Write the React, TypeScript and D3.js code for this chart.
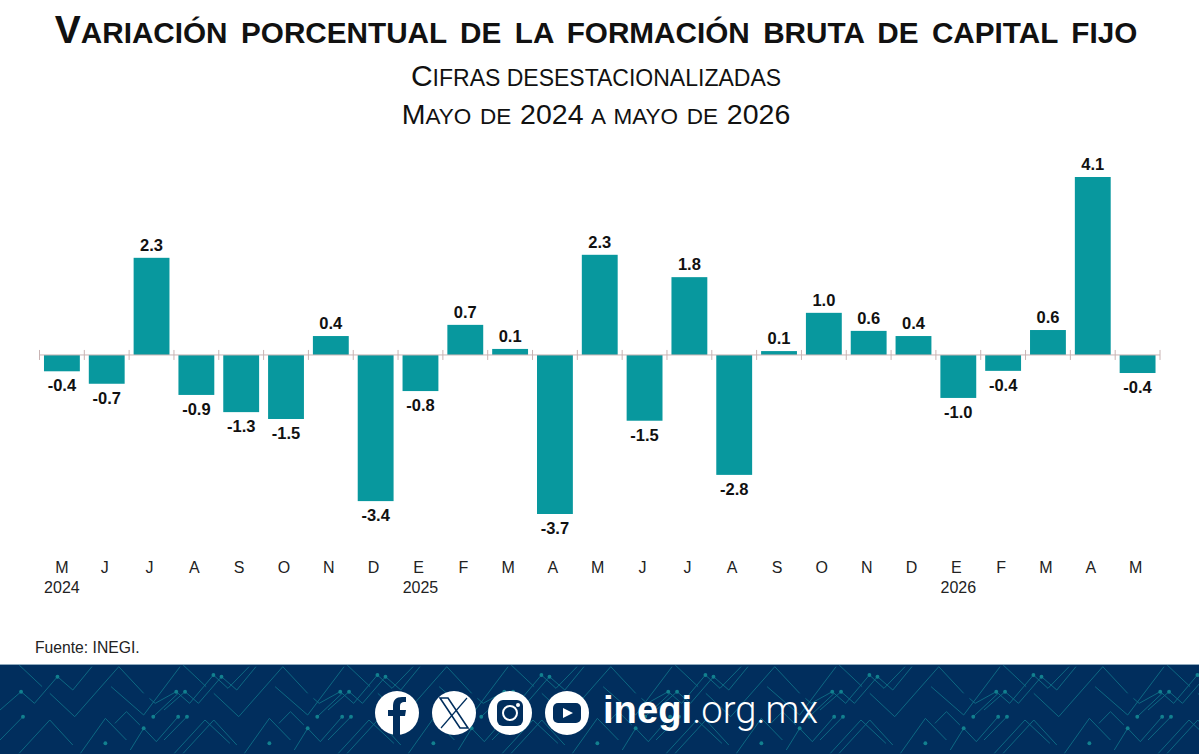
import React from 'react'
import * as d3 from 'd3'

const WIDTH = 1199
const HEIGHT = 754

const months = ['M', 'J', 'J', 'A', 'S', 'O', 'N', 'D', 'E', 'F', 'M', 'A', 'M', 'J', 'J', 'A', 'S', 'O', 'N', 'D', 'E', 'F', 'M', 'A', 'M']
const years = ['2024', '', '', '', '', '', '', '', '2025', '', '', '', '', '', '', '', '', '', '', '', '2026', '', '', '', '']
// the labels round these to one decimal
const values = [-0.38, -0.67, 2.26, -0.93, -1.33, -1.49, 0.44, -3.4, -0.84, 0.7, 0.14, -3.7, 2.33, -1.53, 1.81, -2.79, 0.09, 0.98, 0.56, 0.44, -1.0, -0.37, 0.58, 4.14, -0.42]

const title = 'Variación porcentual de la formación bruta de capital fijo'
const subtitle = 'Cifras desestacionalizadas'
const period = 'Mayo de 2024 a mayo de 2026'

// footer decoration
const zigzags = [
  [[0, 150], [55, 95], [90, 130], [150, 50], [190, 90], [240, 20]],
  [[50, 15], [110, 80]],
  [[130, 100], [195, 170], [310, 20], [375, 100]],
  [[290, 80], [375, 165], [470, 20]],
  [[390, 115], [405, 130], [460, 95], [495, 130], [557, 45], [595, 85], [650, 20]],
  [[400, 170], [465, 100]],
  [[0, 240], [60, 170]],
  [[50, 280], [130, 180], [190, 255]],
  [[210, 280], [275, 175], [330, 240]],
  [[300, 190], [330, 155], [365, 195]],
  [[340, 270], [375, 205], [408, 245], [465, 170]],
  [[455, 280], [535, 180], [600, 250]],
]
const nodes = [[55, 95], [150, 50], [460, 95], [557, 45], [60, 170], [400, 170], [465, 170], [375, 205], [275, 250]]

const TEAL = '#08989e'
const NAVY = '#012e5d'
const SANS = '"Liberation Sans", Arial, sans-serif'

// small caps by hand, the browser's synthetic ratio is too small here
function SmallCaps({ text, big, small }: { text: string; big: number; small: number }) {
  const runs = text.match(/[a-záéíóúñ ]+|[^a-záéíóúñ ]+/g) || []
  return (
    <>
      {runs.map((r, i) => {
        const lower = r !== r.toUpperCase() || r.trim() === ''
        return (
          <tspan key={i} fontSize={lower ? small : big}>
            {r.toUpperCase()}
          </tspan>
        )
      })}
    </>
  )
}

export default function App() {
  const keys = months.map((_, i) => String(i))

  const x = d3.scaleBand().domain(keys).range([39.5, 1160]).paddingInner(0.2).paddingOuter(0.1)
  const y = d3.scaleLinear().domain([-3.7, 4.14]).range([514, 177])
  const step = x.step()
  const ticks = d3.range(months.length + 1).map((i) => 39.5 + i * step)
  const line = d3.line()
  const mid = (i: number) => x(keys[i])! + x.bandwidth() / 2

  return (
    <svg width={WIDTH} height={HEIGHT} style={{ position: 'absolute', left: 0, top: 0, background: '#fff' }} fontFamily={SANS}>
      <g textAnchor="middle" fill="#111">
        <text x={596} y={43} fontWeight="bold" wordSpacing={5.2} xmlSpace="preserve"><SmallCaps text={title} big={39} small={29.7} /></text>
        <text x={596} y={86} xmlSpace="preserve"><SmallCaps text={subtitle} big={30} small={23} /></text>
        <text x={596} y={124} wordSpacing={2.5} xmlSpace="preserve"><SmallCaps text={period} big={28.5} small={22.5} /></text>
      </g>

      {values.map((v, i) => (
        <rect key={i} x={x(keys[i])} width={x.bandwidth()} y={Math.min(y(v), y(0))} height={Math.abs(y(v) - y(0))} fill={TEAL} />
      ))}

      <line x1={39.5} x2={1160} y1={y(0)} y2={y(0)} stroke="#c9b4b4" />
      {ticks.map((t) => (
        <line key={t} x1={t} x2={t} y1={y(0) - 5} y2={y(0) + 5} stroke="#c9b4b4" />
      ))}

      <g textAnchor="middle" fontSize={16.5} fontWeight="bold" fill="#111">
        {values.map((v, i) => (
          <text key={i} x={mid(i)} y={v < 0 ? y(v) + 20 : y(v) - 7}>
            {v.toFixed(1)}
          </text>
        ))}
      </g>

      <g textAnchor="middle" fontSize={16} fill="#222">
        {months.map((m, i) => (
          <text key={i} x={i === 0 ? mid(i) : mid(i) - 2} y={573}>{m}</text>
        ))}
        {years.map((yr, i) => yr && (
          <text key={i} x={mid(i)} y={593}>{yr}</text>
        ))}
      </g>

      <text x={35} y={653} fontSize={15.7} fill="#222">Fuente: INEGI.</text>

      <rect x={0} y={664} width={WIDTH} height={90} fill={NAVY} />
      <rect x={0} y={664} width={WIDTH} height={1} fill="#8fa9bd" />
      <clipPath id="foot"><rect x={0} y={665} width={WIDTH} height={89} /></clipPath>
      <g clipPath="url(#foot)">
        {d3.range(0, 1300, 164).map((dx) => (
          <g key={dx} transform={`translate(${dx},660) scale(${1 / 2.61},${1 / 3})`}>
            {zigzags.map((z, i) => (
              <path key={i} d={line(z as [number, number][])!} fill="none" stroke="#0f6f86" strokeWidth={2.5} />
            ))}
            {nodes.map(([cx, cy], i) => (
              <ellipse key={i} cx={cx} cy={cy} rx={5} ry={6} fill="#12808f" />
            ))}
          </g>
        ))}
      </g>

      <g transform="translate(397,713)">
        <circle r={22} fill="#fff" />
        <path d="M3 22 V3 H8 L9 -3 H3 V-7 C3 -10 5 -11 7 -11 H9 V-16 H5 C-1 -16 -4 -13 -4 -7 V-3 H-9 V3 H-4 V22 Z" fill={NAVY} />
      </g>
      <g transform="translate(454,713)">
        <circle r={22} fill="#fff" />
        <path d="M-14 -15 H-6 L14 15 H6 Z" fill="none" stroke={NAVY} strokeWidth={1.6} />
        <path d="M13 -15 L-13 15" stroke={NAVY} strokeWidth={1.2} />
      </g>
      <g transform="translate(510,713)">
        <circle r={22} fill="#fff" />
        <rect x={-13} y={-13} width={26} height={26} rx={6} fill={NAVY} />
        <circle r={7} fill="none" stroke="#fff" strokeWidth={2} />
        <circle cx={8} cy={-8} r={2} fill="#fff" />
      </g>
      <g transform="translate(567,713)">
        <circle r={22} fill="#fff" />
        <rect x={-14} y={-10} width={28} height={20} rx={5} fill={NAVY} />
        <path d="M-4 -5 L6 0 L-4 5 Z" fill="#fff" />
      </g>

      <text x={603} y={723} fontSize={38.2} fill="#fff" fontFamily='Roboto, "Liberation Sans", sans-serif'>
        <tspan fontWeight="bold" fontFamily={SANS}>inegi</tspan>
        <tspan fontWeight="300">.org.mx</tspan>
      </text>
    </svg>
  )
}
